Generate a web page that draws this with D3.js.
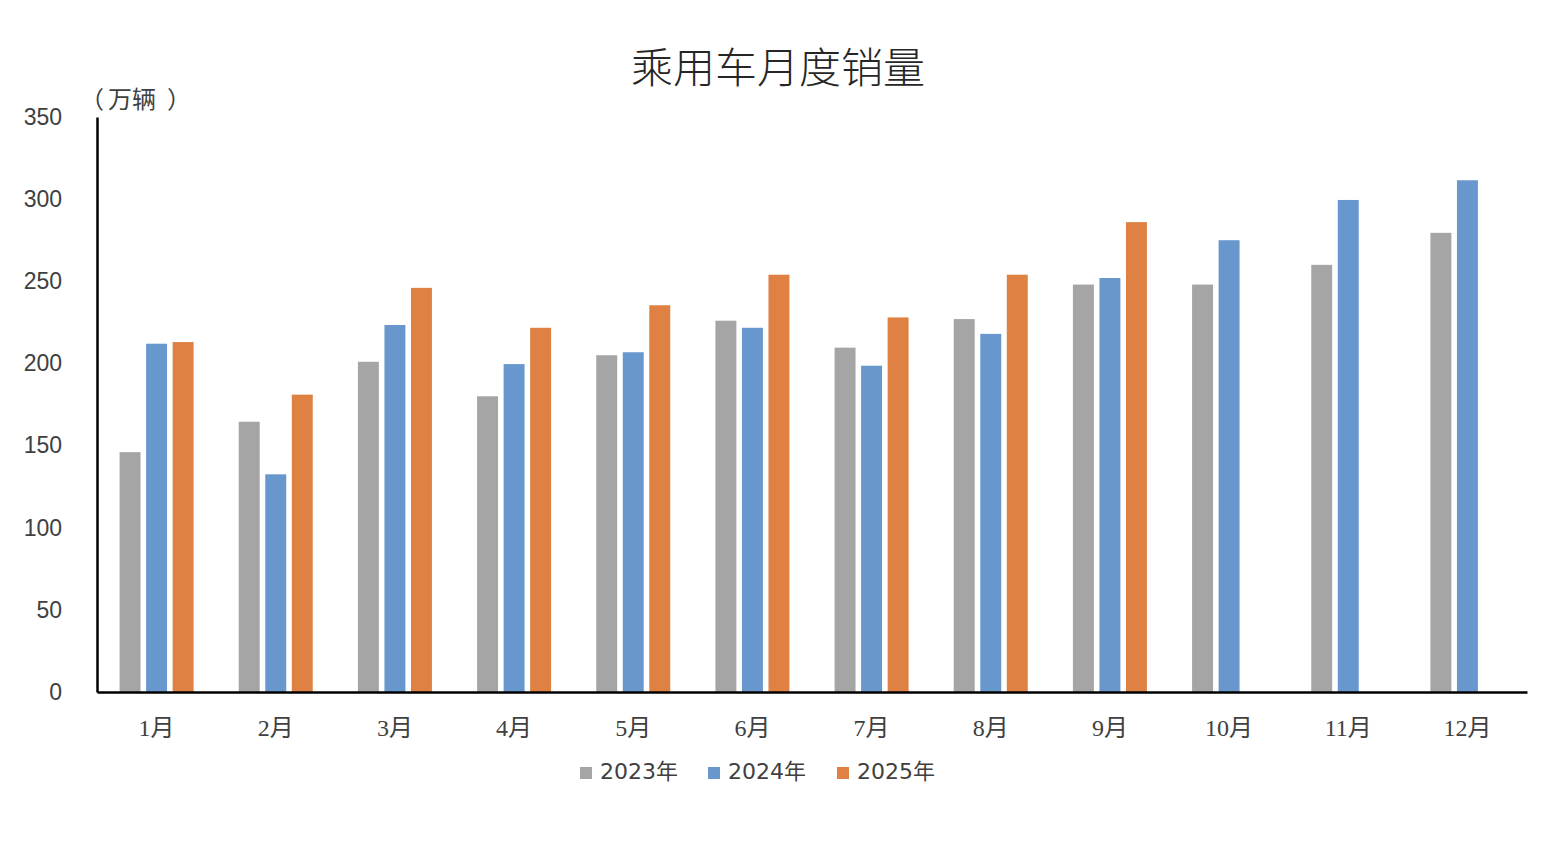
<!DOCTYPE html>
<html><head><meta charset="utf-8">
<script src="https://cdn.jsdelivr.net/npm/d3@7"></script>
<style>
html,body{margin:0;padding:0;background:#fff;}
svg{display:block;}
</style></head>
<body>
<svg id="chart" width="1548" height="842"></svg>
<script>
const months = ["1月","2月","3月","4月","5月","6月","7月","8月","9月","10月","11月","12月"];
const seriesNames = ["2023年","2024年","2025年"];
const sales2023 = [146,164.5,201,180,205,226,209.6,227,248,248,260,279.5];
const sales2024 = [212,132.5,223.4,199.6,206.8,221.7,198.6,218,252,275,299.5,311.5];
const sales2025 = [213,181,246,221.7,235.4,254,228,254,286,null,null,null];
const yTicks = [0,50,100,150,200,250,300,350];
const colors = ["#a5a5a5","#6897ce","#de8142"];

const svg = d3.select("#chart");
const plotLeft = 97, plotRight = 1527, plotTop = 117, plotBottom = 692;
const allSeries = [sales2023, sales2024, sales2025];

const x0 = d3.scaleBand().domain(months).range([plotLeft, plotRight]).paddingInner(0.379).paddingOuter(0.1895);
const x1 = d3.scaleBand().domain(d3.range(3)).range([0, x0.bandwidth()]).paddingInner(0.21).paddingOuter(0);
const y = d3.scaleLinear().domain([0, 350]).range([plotBottom, plotTop]);

const textColor = "#404040";
const sansFont = "'Liberation Sans', Arial, 'Noto Sans CJK SC', sans-serif";
const wideFont = "'DejaVu Sans', 'Noto Sans CJK SC', sans-serif";
const serifFont = "'Liberation Serif', 'Noto Sans CJK SC', serif";

// Title
svg.append("text").attr("x", 778).attr("y", 83).attr("text-anchor", "middle")
  .attr("font-family", "'Noto Sans CJK SC', sans-serif").attr("font-size", 42)
  .attr("font-weight", 300)
  .attr("fill", "#262626").text("乘用车月度销量");

// Unit label
const unit = svg.append("text").attr("y", 108)
  .attr("font-family", "'Noto Sans CJK SC', sans-serif").attr("font-size", 24)
  .attr("fill", textColor);
unit.append("tspan").attr("x", 80).text("（");
unit.append("tspan").attr("x", 108).text("万辆");
unit.append("tspan").attr("x", 167).text("）");

// Bars
const groups = svg.append("g").selectAll("g").data(months).join("g")
  .attr("transform", d => `translate(${x0(d)},0)`);
groups.selectAll("rect")
  .data((m, i) => allSeries.map((s, k) => ({k, v: s[i]})).filter(d => d.v != null))
  .join("rect")
  .attr("x", d => x1(d.k))
  .attr("width", x1.bandwidth())
  .attr("y", d => y(d.v))
  .attr("height", d => y(0) - y(d.v))
  .attr("fill", d => colors[d.k]);

// Y axis
const yAxis = d3.axisLeft(y).tickValues(yTicks).tickSize(0).tickPadding(35);
const gy = svg.append("g").attr("transform", `translate(${plotLeft},0)`).call(yAxis);
gy.select(".domain").attr("stroke", "#000").attr("stroke-width", 2.5);
gy.selectAll("text").attr("font-family", sansFont).attr("font-size", 23).attr("fill", textColor);

// X axis
const xAxis = d3.axisBottom(x0).tickSize(0).tickPadding(27);
const gx = svg.append("g").attr("transform", `translate(0,${plotBottom})`).call(xAxis);
gx.select(".domain").attr("stroke", "#000").attr("stroke-width", 2.5);
gx.selectAll("text").attr("font-family", serifFont).attr("font-size", 24).attr("fill", textColor);

// Legend
const legendX = [580, 708, 837];
const lg = svg.append("g").selectAll("g").data(seriesNames).join("g")
  .attr("transform", (d, i) => `translate(${legendX[i]},771)`);
lg.append("rect").attr("x", 0).attr("y", -4).attr("width", 12).attr("height", 12)
  .attr("fill", (d, i) => colors[i]);
lg.append("text").attr("x", 20).attr("y", 8).attr("font-family", wideFont)
  .attr("font-size", 22).attr("fill", textColor).text(d => d);
</script>
</body></html>
